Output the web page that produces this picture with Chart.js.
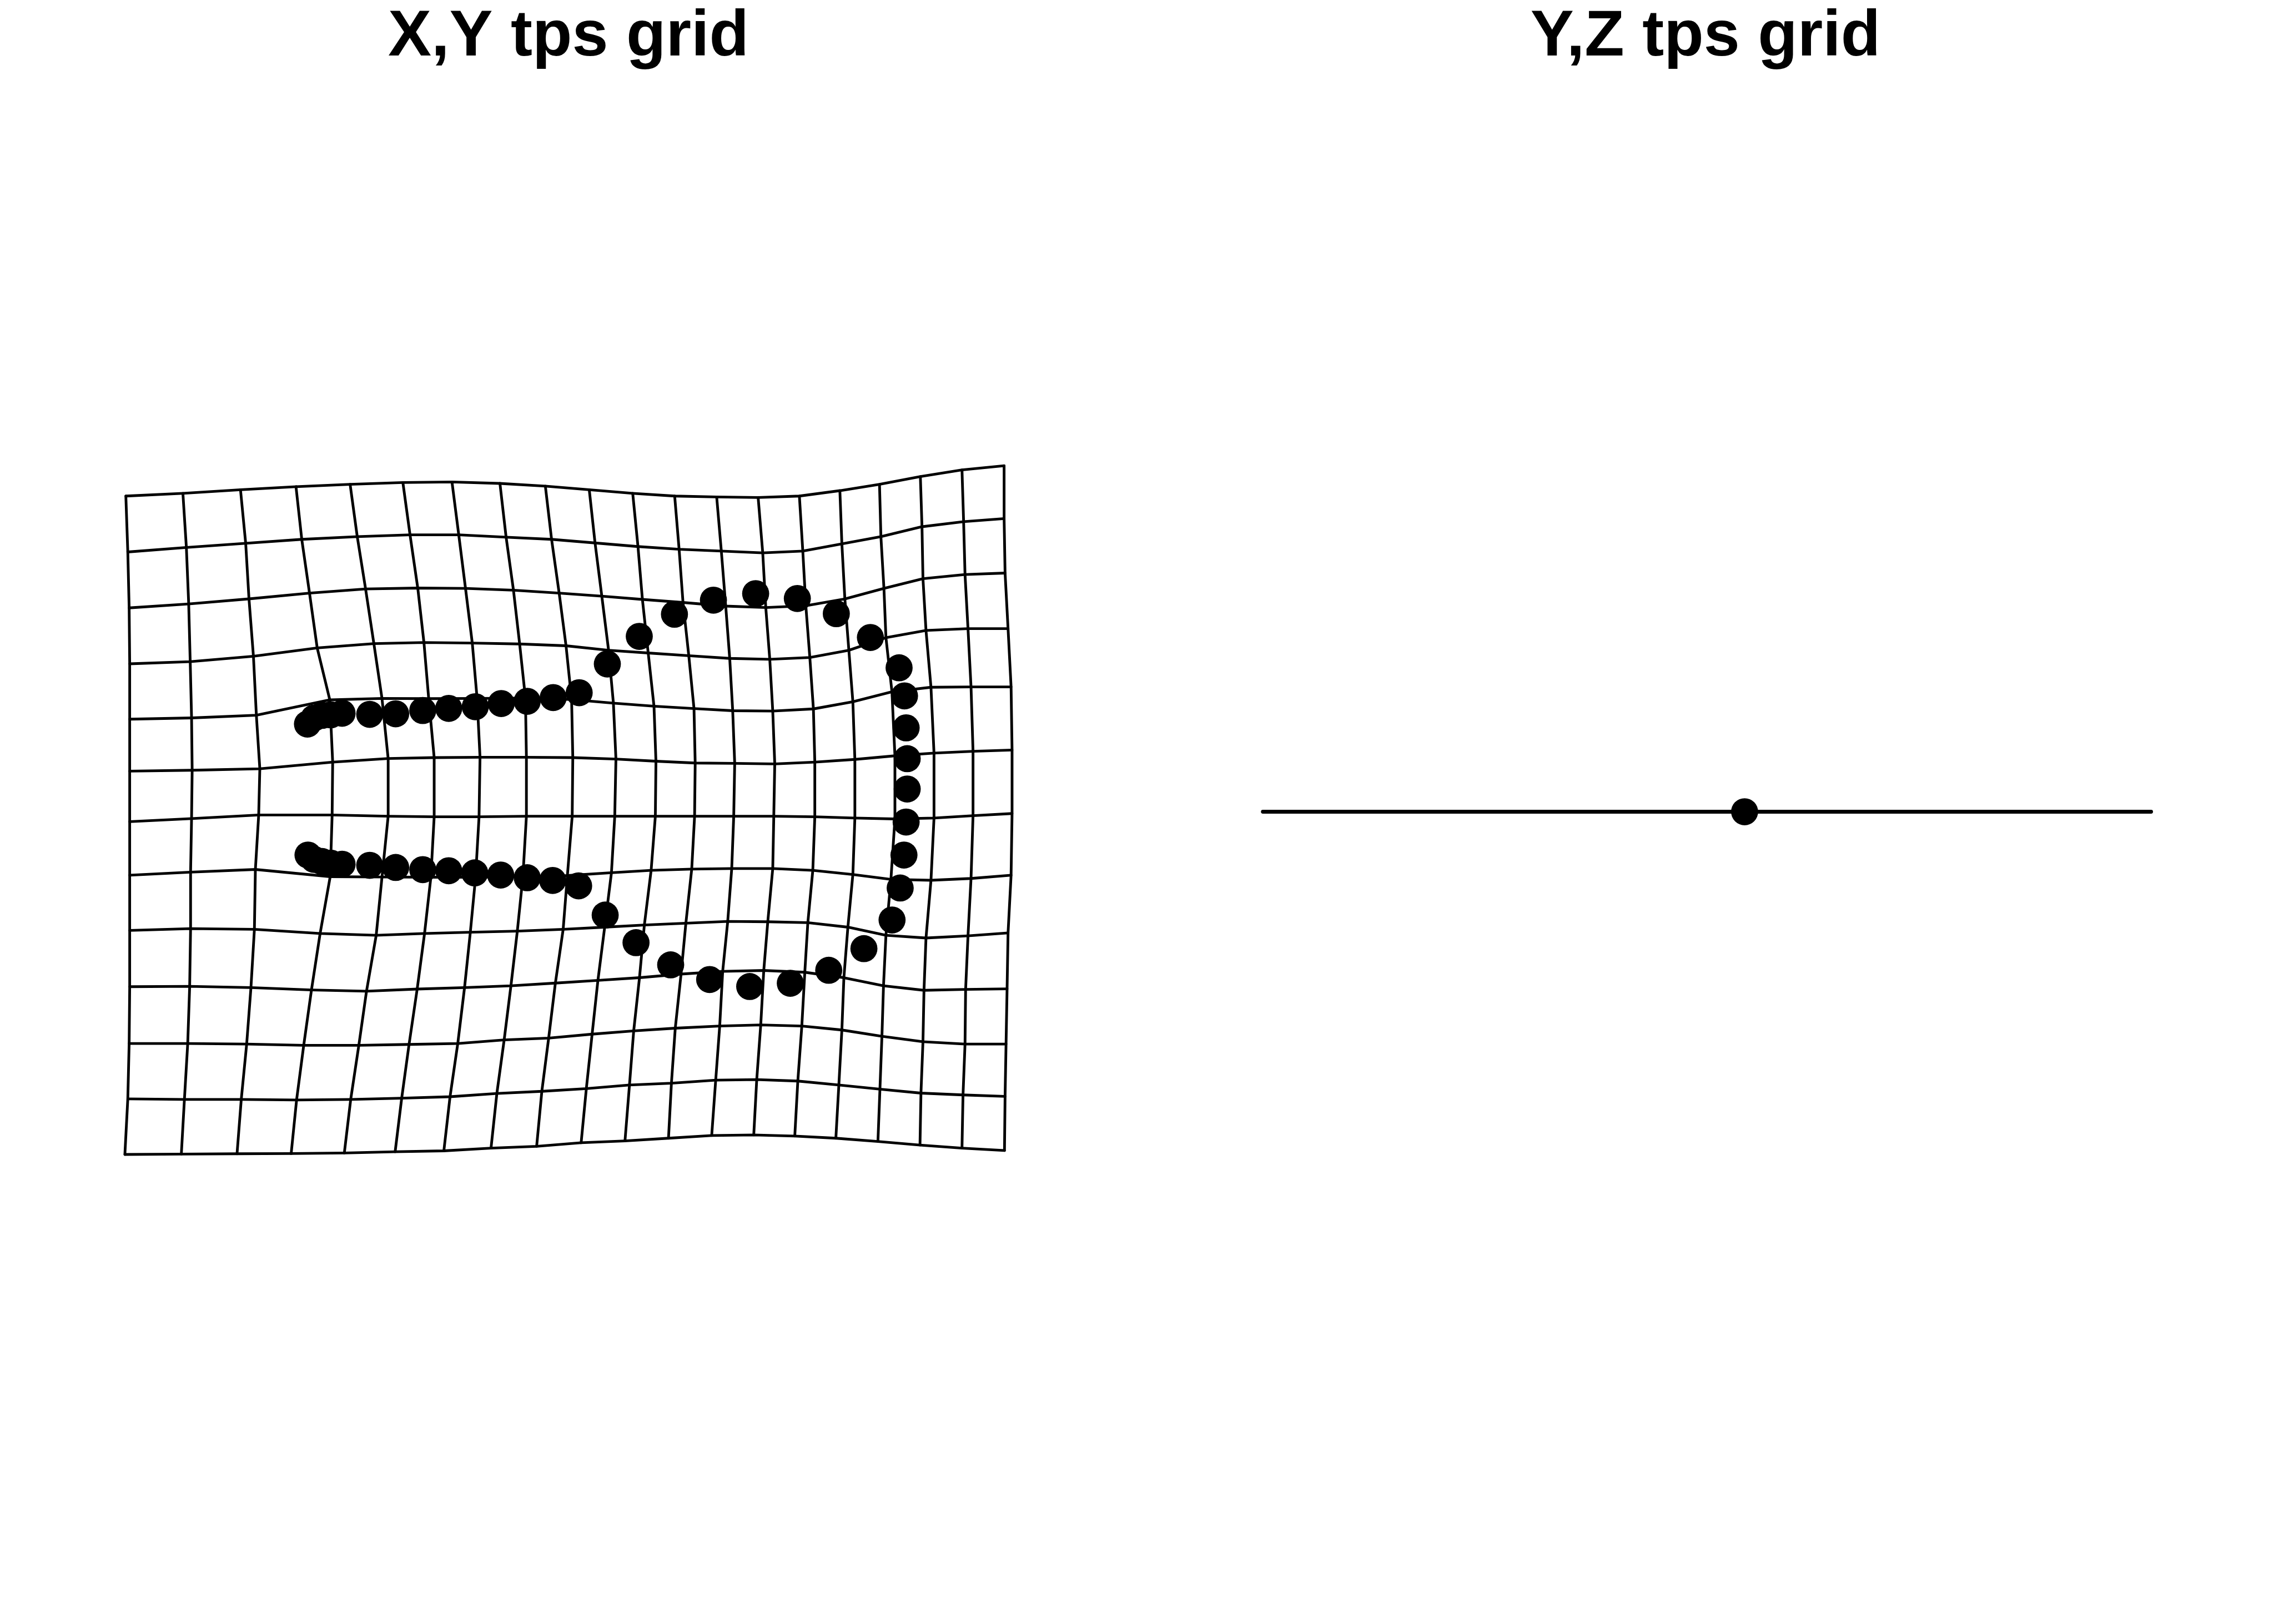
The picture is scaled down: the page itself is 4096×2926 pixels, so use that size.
<!DOCTYPE html>
<html><head><meta charset="utf-8">
<script src="https://cdn.jsdelivr.net/npm/chart.js@4/dist/chart.umd.min.js"></script>
<style>
html,body{margin:0;padding:0;background:#fff;overflow:hidden}
#wrap{position:relative;width:4096px;height:2926px;background:#fff}
.panel{position:absolute;top:0;width:2048px;height:2926px}
</style></head><body>
<div id="wrap">
<div class="panel" style="left:0"><canvas id="c1" width="2048" height="2926"></canvas></div>
<div class="panel" style="left:2048px"><canvas id="c2" width="2048" height="2926"></canvas></div>
</div>
<script>
// ---- data (reference frame units) ----
const panelTitles = ["X,Y tps grid", "Y,Z tps grid"];

// X,Y tps grid: deformed grid node positions, 13 rows x 20 columns
const gridNodeX = [
 [232.5,337.9,444.3,546.8,646.8,744.3,835,923.6,1007.5,1088.6,1168.9,1246.4,1324,1400.6,1476.8,1551.6,1624.8,1700.3,1777.2,1855],
 [236.1,344.3,453.9,557.5,660,757.5,847.5,935,1019,1099.3,1178.6,1254.6,1332.6,1409.1,1483.1,1555.3,1627.4,1703.3,1780.2,1855],
 [238.6,348.6,460,571.8,675.4,771.8,860,948.6,1033,1111.8,1186.8,1261.8,1340.7,1414.7,1488.7,1560.8,1633,1705.1,1782.8,1856.8],
 [239.6,351.4,468.2,586,690.7,783.2,872.5,960,1045.7,1124.3,1197.5,1272.5,1348.1,1422.1,1496.1,1568.2,1636.7,1710.7,1788.3,1862.3],
 [239.6,353.9,473.6,609.3,705.7,792,881.4,970.7,1056,1133.2,1208.2,1282.1,1353.6,1427.6,1502.7,1575.6,1647.8,1719.9,1793.9,1867.9],
 [239.6,355,480,614.6,717.1,802.1,886.8,972.5,1058.2,1137.9,1211.8,1284.3,1357.3,1431.3,1505.3,1579.3,1653.3,1725.5,1797.6,1869.7],
 [239.6,353.9,477.9,613.6,717.1,802.1,885,972.5,1057.1,1135.7,1210.7,1283.2,1355.5,1429.5,1505.3,1579.3,1653.3,1725.5,1797.6,1869.7],
 [239.6,352.1,471.8,610,705.7,796,878.6,966,1048.2,1129.6,1202.9,1277.9,1351.8,1427.6,1501.6,1575.6,1645.9,1719.9,1793.9,1867.9],
 [239.6,352.1,470,591.4,695,784.3,868.9,955.7,1040.4,1117.1,1190.4,1267.1,1344.4,1418.4,1492.4,1566.4,1636.7,1710.7,1788.3,1862.3],
 [239.6,350.4,463.6,575.4,677.1,770.7,858.2,943.9,1026,1104.6,1181.4,1258.2,1335.1,1411,1486.8,1559,1632.2,1707,1783.9,1860.5],
 [238.6,346.8,455.7,561.1,662.9,755.7,845.7,931.4,1013.6,1093.9,1170.7,1247.5,1329.6,1405.4,1481.3,1555.3,1629.3,1705.1,1782.8,1858.6],
 [236.1,340.7,445.7,547.9,647.9,742.1,831.4,917.9,1001,1083.2,1162.9,1240.4,1322.2,1398,1473.9,1549.7,1625.6,1701.4,1779.1,1856.8],
 [230.7,335,437.9,537.9,636.1,730,820,907.1,991.4,1073.6,1154.6,1235,1314.8,1392.5,1468.3,1544.2,1621.9,1699.6,1777.2,1855.7]
];
const gridNodeY = [
 [916.7,911.7,905,899.3,895,891.7,890.7,893.3,898.3,905,911.7,916.7,918.3,919.3,916.7,906.7,895,880.7,868.3,860.7],
 [1020,1011.7,1004,996.7,991.7,988.3,988.3,992.7,996.7,1003.3,1010,1015,1018.3,1021.7,1018.3,1005,991.7,973.3,964,958.3],
 [1123.3,1116,1106.7,1096,1088.3,1086.7,1087.3,1090.7,1096,1101.7,1107.7,1113.3,1120,1122.7,1119.3,1106.7,1087.3,1069.3,1061.7,1059],
 [1226.7,1222.7,1212.7,1197.3,1189.3,1187.3,1188.3,1190,1193.3,1201.7,1206.7,1211.7,1216.7,1218.3,1215,1201.7,1178.3,1165,1161.7,1161.7],
 [1329,1326.7,1321.7,1293.3,1290.7,1291,1290.7,1290,1292.7,1299.3,1305,1309.3,1313.3,1314,1310,1296.7,1278.3,1270,1269.3,1269.3],
 [1425,1423.3,1420.7,1408.3,1401.7,1400,1399.3,1399.3,1400,1402.7,1406.7,1410,1410.7,1411.7,1408.3,1403.3,1396.7,1391.7,1388.3,1386],
 [1518.3,1512.7,1506,1506,1508.3,1509.3,1509.3,1508.3,1508.3,1508.3,1508.3,1508.3,1508.3,1508.3,1509.3,1511.7,1513.3,1511.7,1507.3,1503.3],
 [1617.3,1611.7,1606.7,1620,1620.7,1621,1621,1620,1618,1612.7,1608.3,1606,1605,1605,1608.3,1616,1625,1626.7,1623.3,1617.3],
 [1719.3,1716,1717.3,1725,1728.3,1725,1722.7,1720.7,1717.3,1713.3,1709.3,1706,1702.7,1703.3,1705,1713.3,1728.3,1733.3,1729.3,1724],
 [1823.3,1822.7,1825,1829.3,1831.7,1827.7,1825,1821.7,1816.7,1811.7,1806.7,1800,1795,1793.3,1796.7,1806.7,1821.7,1830,1828.3,1827.3],
 [1928.3,1928.3,1929.3,1931.7,1931.7,1930,1928.3,1921.7,1918.3,1911,1905,1900,1896,1894,1896,1903.3,1915,1925,1929.3,1929.3],
 [2030.7,2031.7,2031.7,2032.7,2031.7,2029.3,2026.7,2020.7,2016.7,2011.7,2005,2001.7,1996,1995,1997.7,2005,2012.7,2020,2023.3,2026],
 [2133.3,2132.7,2132,2131.7,2130.7,2128.3,2126.7,2121.7,2118.3,2111.7,2108.3,2103.3,2098.3,2097.3,2099.3,2103.3,2109.3,2116,2121.7,2126]
];

// landmarks (target configuration)
const landmarkX = [568,580,595,611,632,683,731,781,829,878,926,974,1022,1070,1122,1181,1246,1318,1396,1473,1545,1608,1661,1671,1674,1676,1676,1674,1670,1663,1648,1596,1531,1460,1385,1311,1239,1175,1118,1069,1021,974,925,877,829,781,731,683,632,611,595,580,569];
const landmarkY = [1338,1327,1322,1321,1318,1320,1319,1313,1309,1306,1300,1296,1289,1280,1227,1176,1135,1109,1097,1106,1134,1178,1234,1286,1345,1402,1458,1519,1580,1641,1700,1753,1793,1817,1823,1810,1783,1742,1691,1637,1627,1622,1617,1613,1609,1607,1603,1599,1597,1595,1592,1588,1580];

// Y,Z tps grid: collapsed grid (single line) and landmark
const yzLineX = [2333, 3974];
const yzLineY = [1500, 1500];
const yzPointX = [3223];
const yzPointY = [1500];

// ---- rendering setup ----
const K = 0.975;            // window px per reference unit
const PANEL_W = 2048, PANEL_H = 2926;
const TITLE_SIZE = 117, TITLE_LH = 1.0, TITLE_PAD_TOP = 9, TITLE_PAD_BOTTOM = 0;
const titleBlock = TITLE_PAD_TOP + TITLE_SIZE * TITLE_LH + TITLE_PAD_BOTTOM;
const LINE_W = 5 * K, LINE_W_YZ = 7 * K, DOT_R = 25 * K;

function pts(xs, ys) { return xs.map((x, i) => ({ x: x, y: ys[i] })); }

function baseOptions(title, xMin) {
  return {
    responsive: false,
    animation: false,
    events: [],
    layout: { padding: 0, autoPadding: false },
    plugins: {
      legend: { display: false },
      tooltip: { enabled: false },
      title: {
        display: true, text: title, color: '#000',
        font: { family: '"Liberation Sans", Arial, Helvetica, sans-serif', size: TITLE_SIZE, weight: 'bold', lineHeight: TITLE_LH },
        padding: { top: TITLE_PAD_TOP, bottom: TITLE_PAD_BOTTOM }
      }
    },
    scales: {
      x: { type: 'linear', display: false, min: xMin, max: xMin + PANEL_W / K },
      y: { type: 'linear', display: false, reverse: true, min: titleBlock / K, max: PANEL_H / K }
    }
  };
}

function lineDs(data, w) {
  return { type: 'scatter', data: data, showLine: true, borderColor: '#000', backgroundColor: '#000',
    borderWidth: w, pointRadius: 0, tension: 0, borderCapStyle: 'round', borderJoinStyle: 'round', order: 1, clip: false };
}
function dotDs(data) {
  return { type: 'scatter', data: data, showLine: false, backgroundColor: '#000', borderColor: '#000',
    borderWidth: 0, pointRadius: DOT_R, pointStyle: 'circle', order: 0, clip: false };
}

// left panel datasets
const leftSets = [];
leftSets.push(dotDs(pts(landmarkX, landmarkY)));
for (let r = 0; r < gridNodeX.length; r++) {
  leftSets.push(lineDs(pts(gridNodeX[r], gridNodeY[r]), LINE_W));
}
for (let c = 0; c < gridNodeX[0].length; c++) {
  leftSets.push(lineDs(pts(gridNodeX.map(row => row[c]), gridNodeY.map(row => row[c])), LINE_W));
}

new Chart(document.getElementById('c1'), {
  type: 'scatter',
  data: { datasets: leftSets },
  options: baseOptions(panelTitles[0], 0)
});

new Chart(document.getElementById('c2'), {
  type: 'scatter',
  data: { datasets: [dotDs(pts(yzPointX, yzPointY)), lineDs(pts(yzLineX, yzLineY), LINE_W_YZ)] },
  options: baseOptions(panelTitles[1], PANEL_W / K)
});
</script>
</body></html>
